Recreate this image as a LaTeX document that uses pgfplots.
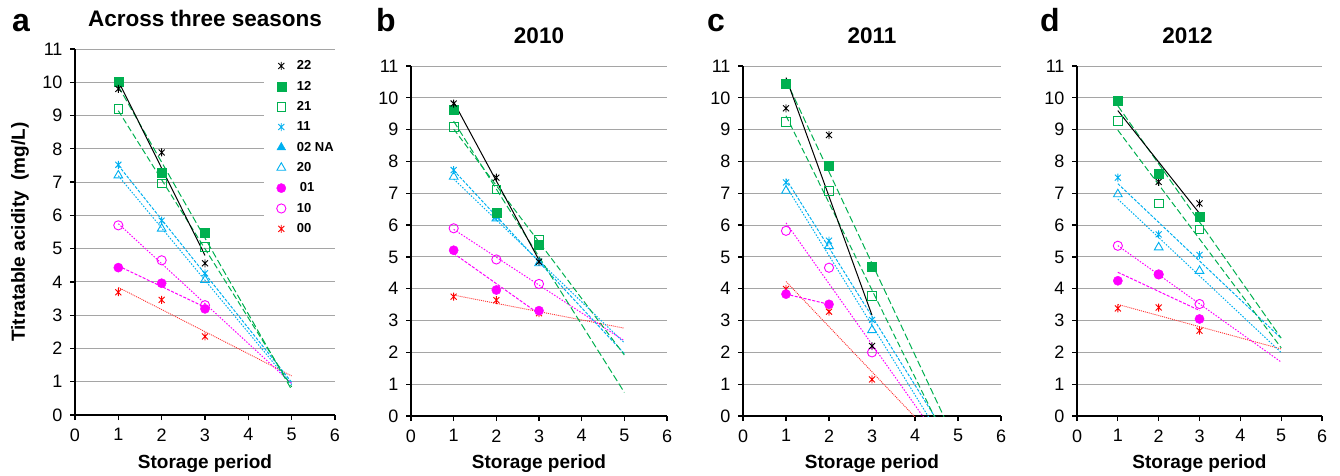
\documentclass[border=0pt]{standalone}
\usepackage{fontspec}
\setmainfont{Liberation Sans}
\usepackage{pgfplots}
\pgfplotsset{compat=1.18}
\definecolor{cgreen}{RGB}{0,176,80}
\definecolor{ccyan}{RGB}{0,176,240}
\definecolor{cmag}{RGB}{255,0,255}
\definecolor{cred}{RGB}{255,0,0}
\definecolor{cgrid}{RGB}{165,165,165}
\pgfdeclareplotmark{xstar}{%
  \pgfpathmoveto{\pgfqpoint{0pt}{\pgfplotmarksize}}%
  \pgfpathlineto{\pgfqpoint{0pt}{-\pgfplotmarksize}}%
  \pgfpathmoveto{\pgfqpoint{-.75\pgfplotmarksize}{.75\pgfplotmarksize}}%
  \pgfpathlineto{\pgfqpoint{.75\pgfplotmarksize}{-.75\pgfplotmarksize}}%
  \pgfpathmoveto{\pgfqpoint{-.75\pgfplotmarksize}{-.75\pgfplotmarksize}}%
  \pgfpathlineto{\pgfqpoint{.75\pgfplotmarksize}{.75\pgfplotmarksize}}%
  \pgfusepathqstroke}
\pgfplotsset{
  panel/.style={
    scale only axis, xmin=0, xmax=6, ymin=0, ymax=11,
    xtick={0,...,6}, ytick={0,...,11},
    axis lines=left, axis line style={-, line width=1.4pt},
    x axis line style={-}, y axis line style={-},
    ymajorgrids, grid style={cgrid, line width=0.9pt},
    tick align=outside, major tick length=5pt, tick style={black, line width=1.2pt},
    /pgf/number format/assume math mode=true,
    tick label style={font=\fontsize{18}{18}\selectfont},
    yticklabel style={xshift=-4pt},
    xticklabel style={yshift=-5pt},
    xlabel={Storage period},
    xlabel style={font=\bfseries\fontsize{19}{19}\selectfont, at={(axis description cs:0.5,0)}, anchor=base, yshift=-52pt},
    title style={font=\bfseries\fontsize{22.5}{22.5}\selectfont, at={(axis description cs:0.5,1)}, anchor=base, yshift=17pt},
  },
  m22/.style={only marks, mark=xstar, mark size=4pt, draw=black, line width=0.9pt},
  m12/.style={only marks, mark=square*, mark size=4.5pt, draw=cgreen, fill=cgreen},
  m21/.style={only marks, mark=square, mark size=4.3pt, draw=cgreen, line width=0.9pt},
  m11/.style={only marks, mark=xstar, mark size=4pt, draw=ccyan, line width=0.9pt},
  m02/.style={only marks, mark=triangle*, mark size=5pt, draw=ccyan, fill=ccyan},
  m20/.style={only marks, mark=triangle, mark size=5pt, draw=ccyan, line width=0.9pt},
  m01/.style={only marks, mark=*, mark size=4.6pt, draw=cmag, fill=cmag},
  m10/.style={only marks, mark=o, mark size=4.6pt, draw=cmag, line width=0.9pt},
  m00/.style={only marks, mark=xstar, mark size=4pt, draw=cred, line width=0.9pt},
  l22/.style={forget plot, no marks, black, line width=1pt},
  l12/.style={forget plot, no marks, cgreen, line width=1pt, dash pattern=on 7pt off 3pt},
  l21/.style={forget plot, no marks, cgreen, line width=1pt, dash pattern=on 6pt off 3pt},
  l11/.style={forget plot, no marks, ccyan, line width=1pt, dash pattern=on 3pt off 1.5pt},
  l20/.style={forget plot, no marks, ccyan, line width=1pt, dash pattern=on 1.5pt off 1.5pt},
  l01/.style={forget plot, no marks, cmag, line width=1pt, dash pattern=on 3pt off 1.5pt},
  l10/.style={forget plot, no marks, cmag, line width=1pt, dash pattern=on 1.5pt off 1.5pt},
  l00/.style={forget plot, no marks, cred!80, line width=0.9pt, dash pattern=on 1pt off 1pt},
}
\begin{document}
\begin{tikzpicture}
\useasboundingbox (0,0) rectangle (1340pt,475pt);
% ---------------- panel a ----------------
\begin{axis}[panel, at={(75pt,60pt)}, anchor=south west, width=260pt, height=366pt,
  title={Across three  seasons}, xlabel style={yshift=-1pt},
  ylabel={Titratable acidity\ \ (mg/L)},
  ylabel style={font=\bfseries\fontsize{19}{19}\selectfont, at={(axis description cs:0,0.5)}, anchor=center, yshift=55pt},
  legend style={at={(axis description cs:0.725,0.985)}, anchor=north west, draw=none, fill=white,
    font=\bfseries\fontsize{13}{13}\selectfont, row sep=5.8pt, column sep=9pt, inner ysep=4pt, inner xsep=13pt},
  legend cell align=left]
\addlegendimage{m22}\addlegendentry{22}
\addlegendimage{m12}\addlegendentry{12}
\addlegendimage{m21}\addlegendentry{21}
\addlegendimage{m11}\addlegendentry{11}
\addlegendimage{m02}\addlegendentry{02 NA}
\addlegendimage{m20}\addlegendentry{20}
\addlegendimage{m01}\addlegendentry{\hspace{3pt}01}
\addlegendimage{m10}\addlegendentry{10}
\addlegendimage{m00}\addlegendentry{00}
\addplot[l00] coordinates {(1,3.835) (5,1.175)};
\addplot[l10] coordinates {(1,5.75) (5,0.95)};
\addplot[l01] coordinates {(1,4.48) (3,3.24)};
\addplot[l20] coordinates {(1,7.19) (5,0.91)};
\addplot[l11] coordinates {(1,7.503) (5,0.983)};
\addplot[l21] coordinates {(1,9.145) (5,0.845)};
\addplot[l12] coordinates {(1,9.877) (5,0.757)};
\addplot[l22] coordinates {(1,10.037) (3,4.797)};
\addplot[m00, forget plot] coordinates {(1,3.69) (2,3.46) (3,2.36)};
\addplot[m10, forget plot] coordinates {(1,5.70) (2,4.65) (3,3.30)};
\addplot[m01, forget plot] coordinates {(1,4.43) (2,3.96) (3,3.19)};
\addplot[m20, forget plot] coordinates {(1,7.20) (2,5.60) (3,4.06)};
\addplot[m11, forget plot] coordinates {(1,7.52) (2,5.84) (3,4.26)};
\addplot[m21, forget plot] coordinates {(1,9.20) (2,6.96) (3,5.05)};
\addplot[m12, forget plot] coordinates {(1,10.03) (2,7.29) (3,5.47)};
\addplot[m22, forget plot] coordinates {(1,9.80) (2,7.89) (3,4.56)};
\end{axis}
% ---------------- panel b ----------------
\begin{axis}[panel, at={(411pt,59pt)}, anchor=south west, width=256pt, height=350pt, title={2010}]
\addplot[l00] coordinates {(1,3.80) (5,2.76)};
\addplot[l10] coordinates {(1,5.865) (5,2.365)};
\addplot[l01] coordinates {(1,5.11) (3,3.21)};
\addplot[l20] coordinates {(1,7.45) (5,2.30)};
\addplot[l11] coordinates {(1,7.72) (5,1.96)};
\addplot[l21] coordinates {(1,9.018) (5,1.918)};
\addplot[l12] coordinates {(1,9.263) (5,0.743)};
\addplot[l22] coordinates {(1,9.872) (3,4.902)};
\addplot[m00, forget plot] coordinates {(1,3.75) (2,3.64) (3,3.23)};
\addplot[m10, forget plot] coordinates {(1,5.90) (2,4.92) (3,4.15)};
\addplot[m01, forget plot] coordinates {(1,5.21) (2,3.96) (3,3.31)};
\addplot[m20, forget plot] coordinates {(1,7.52) (2,6.21) (3,4.80)};
\addplot[m11, forget plot] coordinates {(1,7.73) (2,6.26) (3,4.85)};
\addplot[m21, forget plot] coordinates {(1,9.08) (2,7.12) (3,5.53)};
\addplot[m12, forget plot] coordinates {(1,9.63) (2,6.40) (3,5.37)};
\addplot[m22, forget plot] coordinates {(1,9.82) (2,7.49) (3,4.85)};
\end{axis}
% ---------------- panel c ----------------
\begin{axis}[panel, at={(743pt,59pt)}, anchor=south west, width=258pt, height=350pt, title={2011}]
\addplot[l00] coordinates {(1,4.227) (5,-1.453)};
\addplot[l10] coordinates {(1,6.07) (5,-1.57)};
\addplot[l01] coordinates {(1,3.83) (2,3.51)};
\addplot[l20] coordinates {(1,7.23) (5,-1.53)};
\addplot[l11] coordinates {(1,7.45) (5,-1.19)};
\addplot[l21] coordinates {(1,9.437) (5,-1.523)};
\addplot[l12] coordinates {(1,10.553) (5,-0.967)};
\addplot[l22] coordinates {(1,10.635) (3,3.165)};
\addplot[m00, forget plot] coordinates {(1,3.99) (2,3.28) (3,1.15)};
\addplot[m10, forget plot] coordinates {(1,5.82) (2,4.66) (3,2.00)};
\addplot[m01, forget plot] coordinates {(1,3.83) (2,3.51)};
\addplot[m20, forget plot] coordinates {(1,7.08) (2,5.34) (3,2.70)};
\addplot[m11, forget plot] coordinates {(1,7.34) (2,5.51) (3,3.02)};
\addplot[m21, forget plot] coordinates {(1,9.25) (2,7.07) (3,3.77)};
\addplot[m12, forget plot] coordinates {(1,10.45) (2,7.88) (3,4.69)};
\addplot[m22, forget plot] coordinates {(1,9.67) (2,8.83) (3,2.20)};
\end{axis}
% ---------------- panel d ----------------
\begin{axis}[panel, at={(1077pt,59pt)}, anchor=south west, width=245pt, height=350pt, title={2012},
  title style={xshift=-12pt}]
\addplot[l00] coordinates {(1,3.507) (5,2.107)};
\addplot[l10] coordinates {(1,5.355) (5,1.695)};
\addplot[l01] coordinates {(1,4.517) (3,3.317)};
\addplot[l20] coordinates {(1,6.815) (5,1.995)};
\addplot[l11] coordinates {(1,7.302) (5,2.442)};
\addplot[l21] coordinates {(1,8.983) (5,2.143)};
\addplot[l12] coordinates {(1,9.748) (5,2.448)};
\addplot[l22] coordinates {(1,9.598) (3,6.368)};
\addplot[m00, forget plot] coordinates {(1,3.38) (2,3.41) (3,2.68)};
\addplot[m10, forget plot] coordinates {(1,5.35) (2,4.45) (3,3.52)};
\addplot[m01, forget plot] coordinates {(1,4.25) (2,4.45) (3,3.05)};
\addplot[m20, forget plot] coordinates {(1,6.97) (2,5.30) (3,4.56)};
\addplot[m11, forget plot] coordinates {(1,7.49) (2,5.71) (3,5.06)};
\addplot[m21, forget plot] coordinates {(1,9.28) (2,6.68) (3,5.86)};
\addplot[m22, forget plot] coordinates {(1,9.91) (2,7.36) (3,6.68)};
\addplot[m12, forget plot] coordinates {(1,9.91) (2,7.60) (3,6.26)};
\end{axis}
% panel letters
\node[anchor=base west, inner sep=0pt, font=\bfseries\fontsize{32}{32}\selectfont] at (12pt,443pt) {a};
\node[anchor=base west, inner sep=0pt, font=\bfseries\fontsize{32}{32}\selectfont] at (376pt,443pt) {b};
\node[anchor=base west, inner sep=0pt, font=\bfseries\fontsize{32}{32}\selectfont] at (707pt,443pt) {c};
\node[anchor=base west, inner sep=0pt, font=\bfseries\fontsize{32}{32}\selectfont] at (1040pt,443pt) {d};
\end{tikzpicture}
\end{document}
